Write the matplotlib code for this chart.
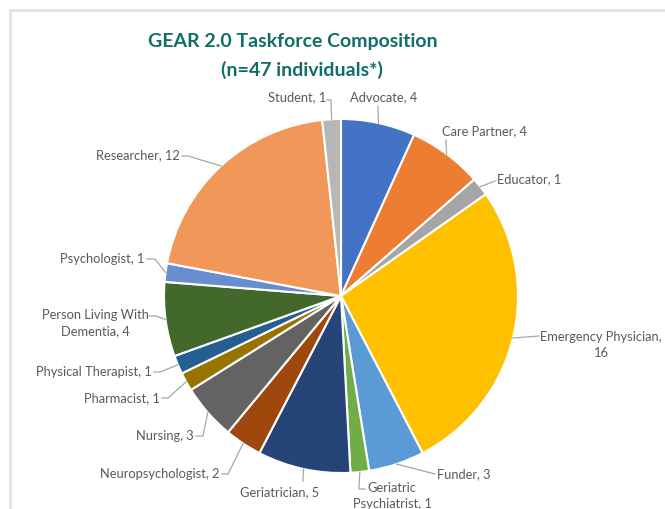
import numpy as np
import matplotlib
matplotlib.use("Agg")
import matplotlib.pyplot as plt
from matplotlib.lines import Line2D

# data (clockwise from 12 o'clock)
roles = ["Advocate", "Care Partner", "Educator", "Emergency Physician", "Funder",
         "Geriatric Psychiatrist", "Geriatrician", "Neuropsychologist", "Nursing",
         "Pharmacist", "Physical Therapist", "Person Living With Dementia",
         "Psychologist", "Researcher", "Student"]
counts = [4, 4, 1, 16, 3, 1, 5, 2, 3, 1, 1, 4, 1, 12, 1]
label_text = ["Advocate, 4", "Care Partner, 4", "Educator, 1", "Emergency Physician,\n16",
              "Funder, 3", "Geriatric\nPsychiatrist, 1", "Geriatrician, 5",
              "Neuropsychologist, 2", "Nursing, 3", "Pharmacist, 1",
              "Physical Therapist, 1", "Person Living With\nDementia, 4",
              "Psychologist, 1", "Researcher, 12", "Student, 1"]
colors = ["#4472C4", "#ED7D31", "#A5A5A5", "#FFC000", "#5B9BD5", "#70AD47",
          "#264478", "#9E480E", "#636363", "#997300", "#255E91", "#43682B",
          "#698ED0", "#F1975A", "#B7B7B7"]

W, H = 665, 509
CX, CY, R = 341, 296, 177   # pie centre / radius in pixels (from top-left)

# label layout in pixels: text anchor, alignment, leader start, elbow (or None)
layout = [
    ((384, 97), "center", (378, 106), None),
    ((484, 131), "center", (446, 140), None),
    ((497, 179), "left", (495, 181), None),
    ((601, 345), "center", (539, 336), None),
    ((437, 474), "left", (435, 474), None),
    ((392, 496), "center", (365, 489), (359, 489)),
    ((280, 492), "center", (303, 481), None),
    ((220, 474), "right", (222, 474), (228, 474)),
    ((194, 436), "right", (196, 436), (203, 436)),
    ((160, 398), "right", (162, 398), (168, 398)),
    ((152, 372), "right", (154, 372), (160, 372)),
    ((95, 323), "center", (149, 316), (156, 316)),
    ((144, 259), "right", (147, 259), (155, 259)),
    ((180, 155), "right", (182, 156), (188, 156)),
    ((326, 97), "right", (327, 100), (331, 100)),
]

INK = "#595959"
LEADER = "#A6A6A6"
TITLE = "#0F6E65"

plt.rcParams["font.family"] = ["Lato", "DejaVu Sans"]

fig = plt.figure(figsize=(W / 100, H / 100), dpi=100)

# pie axes sized so that data radius 1 == R pixels
ax = fig.add_axes([(CX - R) / W, (H - CY - R) / H, 2 * R / W, 2 * R / H])
ax.pie(counts, colors=colors, startangle=90, counterclock=False, radius=1,
       wedgeprops=dict(edgecolor="white", linewidth=1.5))
ax.set_xlim(-1, 1)
ax.set_ylim(-1, 1)
ax.set_aspect("equal")
ax.axis("off")


def px(x, y):
    return x / W, 1 - y / H


# arc midpoints of each wedge for leader lines
total = sum(counts)
cum = np.cumsum([0] + counts)
for i, txt in enumerate(label_text):
    mid = np.deg2rad(90 - (cum[i] + counts[i] / 2) / total * 360)
    mx, my = CX + R * np.cos(mid), CY - R * np.sin(mid)
    (tx, ty), ha, start, elbow = layout[i]
    pts = [start] + ([elbow] if elbow else []) + [(mx, my)]
    xs = [p[0] / W for p in pts]
    ys = [1 - p[1] / H for p in pts]
    fig.add_artist(Line2D(xs, ys, color=LEADER, linewidth=0.9))
    fig.text(*px(tx, ty), txt, ha=ha, va="center", fontsize=9.3, color=INK,
             multialignment="center", linespacing=1.4)

fig.text(*px(293, 42), "GEAR 2.0 Taskforce Composition", ha="center", va="center",
         fontsize=14, fontweight="bold", color=TITLE)
fig.text(*px(302, 70), "(n=47 individuals*)", ha="center", va="center",
         fontsize=14, fontweight="bold", color=TITLE)

# light frame of the chart area (top and left edges visible)
fig.add_artist(Line2D([10 / W, 1], [1 - 10 / H] * 2, color="#E3E3E3", linewidth=2))
fig.add_artist(Line2D([10 / W] * 2, [0, 1 - 10 / H], color="#E3E3E3", linewidth=2))

fig.savefig("out.png", dpi=100)
